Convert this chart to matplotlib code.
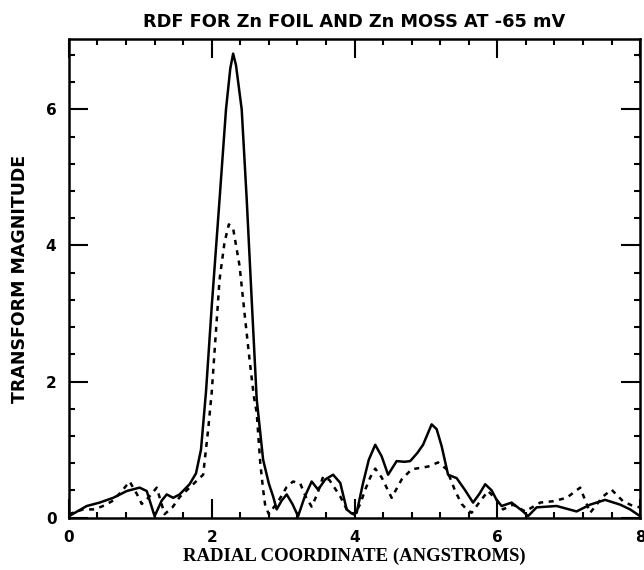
import matplotlib

matplotlib.use("Agg")

import matplotlib.pyplot as plt
from matplotlib.ticker import MultipleLocator

# Zn foil (solid)
r_foil = [0.0, 0.1, 0.25, 0.43, 0.62, 0.81, 0.99, 1.09, 1.20, 1.30, 1.37, 1.46,
          1.55, 1.69, 1.78, 1.85, 1.92, 2.0, 2.11, 2.2, 2.26, 2.30, 2.34, 2.42,
          2.49, 2.56, 2.63, 2.72, 2.80, 2.86, 2.91, 2.98, 3.05, 3.13, 3.21, 3.30,
          3.40, 3.49, 3.59, 3.70, 3.80, 3.89, 3.96, 4.03, 4.12, 4.20, 4.29, 4.38,
          4.47, 4.59, 4.70, 4.78, 4.88, 4.96, 5.08, 5.15, 5.22, 5.31, 5.43, 5.55,
          5.66, 5.75, 5.83, 5.92, 5.99, 6.06, 6.20, 6.36, 6.43, 6.55, 6.83, 7.11,
          7.30, 7.51, 7.72, 7.86, 8.0]
mag_foil = [0.02, 0.08, 0.17, 0.22, 0.29, 0.39, 0.44, 0.39, 0.02, 0.25, 0.34, 0.29,
            0.34, 0.49, 0.65, 1.0, 1.85, 3.1, 4.68, 6.0, 6.6, 6.82, 6.65, 6.0,
            4.68, 3.2, 1.74, 0.85, 0.5, 0.31, 0.12, 0.25, 0.34, 0.2, 0.02, 0.3,
            0.53, 0.41, 0.56, 0.63, 0.51, 0.12, 0.06, 0.07, 0.51, 0.85, 1.07, 0.9,
            0.63, 0.83, 0.82, 0.83, 0.95, 1.07, 1.37, 1.3, 1.05, 0.63, 0.58, 0.4,
            0.22, 0.35, 0.49, 0.4, 0.26, 0.17, 0.22, 0.09, 0.02, 0.15, 0.17, 0.09,
            0.19, 0.26, 0.19, 0.12, 0.02]

# Zn moss at -65 mV (dashed)
r_moss = [0.0, 0.2, 0.36, 0.5, 0.62, 0.75, 0.85, 0.95, 1.02, 1.12, 1.23, 1.34,
          1.45, 1.55, 1.65, 1.74, 1.88, 1.95, 2.0, 2.11, 2.18, 2.24, 2.30, 2.39,
          2.46, 2.53, 2.59, 2.63, 2.68, 2.72, 2.75, 2.80, 2.95, 3.05, 3.14, 3.24,
          3.32, 3.40, 3.48, 3.56, 3.65, 3.80, 3.90, 4.0, 4.08, 4.15, 4.22, 4.29,
          4.38, 4.52, 4.66, 4.80, 4.92, 5.03, 5.17, 5.29, 5.41, 5.50, 5.57, 5.64,
          5.76, 5.87, 5.99, 6.08, 6.22, 6.39, 6.6, 6.78, 6.97, 7.16, 7.30, 7.48,
          7.60, 7.76, 7.90, 8.0]
mag_moss = [0.05, 0.12, 0.12, 0.18, 0.25, 0.4, 0.53, 0.35, 0.2, 0.3, 0.44, 0.05,
            0.15, 0.3, 0.4, 0.49, 0.63, 1.29, 1.84, 3.5, 4.05, 4.31, 4.25, 3.7,
            3.0, 2.32, 1.78, 1.54, 0.8, 0.41, 0.17, 0.05, 0.27, 0.45, 0.53, 0.5,
            0.3, 0.16, 0.35, 0.6, 0.55, 0.31, 0.1, 0.04, 0.2, 0.41, 0.59, 0.72,
            0.59, 0.29, 0.56, 0.71, 0.73, 0.75, 0.81, 0.71, 0.39, 0.2, 0.12, 0.07,
            0.24, 0.39, 0.26, 0.12, 0.19, 0.09, 0.22, 0.24, 0.29, 0.44, 0.07, 0.31,
            0.41, 0.24, 0.17, 0.15]

x_ticks = [0, 2, 4, 6, 8]
y_ticks = [0, 2, 4, 6]

fig = plt.figure(figsize=(6.44, 5.70), dpi=100)
ax = fig.add_axes([0.107, 0.092, 0.887, 0.839])

ax.plot(r_foil, mag_foil, color="black", lw=1.8, solid_joinstyle="round")
ax.plot(r_moss, mag_moss, color="black", lw=1.8, linestyle=(0, (2.0, 2.2)))

ax.set_xlim(0, 8)
ax.set_ylim(0, 7.03)
ax.set_xticks(x_ticks)
ax.set_yticks(y_ticks)
ax.xaxis.set_minor_locator(MultipleLocator(0.4))
ax.yaxis.set_minor_locator(MultipleLocator(0.4))
ax.tick_params(which="both", direction="in", top=True, right=True, width=1.5)
ax.tick_params(which="major", length=14, labelsize=11)
ax.tick_params(axis="x", which="major", pad=9)
ax.tick_params(axis="y", which="major", pad=9)
ax.tick_params(which="minor", length=4.5)
for lbl in ax.get_xticklabels() + ax.get_yticklabels():
    lbl.set_fontweight("bold")
for sp in ax.spines.values():
    sp.set_linewidth(1.8)

ax.set_title("RDF FOR Zn FOIL AND Zn MOSS AT -65 mV", fontsize=12.8,
             fontweight="bold", pad=9)
ax.set_xlabel("RADIAL COORDINATE (ANGSTROMS)", fontsize=13.5,
              fontfamily="Liberation Serif", fontweight="bold", labelpad=2)
ax.set_ylabel("TRANSFORM MAGNITUDE", fontsize=12.5, fontweight="bold",
              labelpad=12)

fig.savefig("out.png", dpi=100)
